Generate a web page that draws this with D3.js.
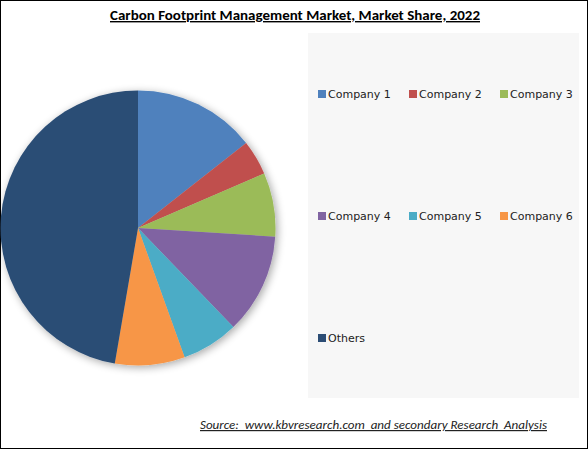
<html>
<head>
<script src="https://cdn.jsdelivr.net/npm/d3@7"></script>
<style>
  body { margin: 0; background: #fff; }
  svg text { font-family: "DejaVu Sans", sans-serif; }
</style>
</head>
<body>
<script>
// chart data
var categories = ["Company 1", "Company 2", "Company 3", "Company 4", "Company 5", "Company 6", "Others"];
var shares = [14.4, 4.1, 7.5, 11.8, 6.7, 8.2, 47.3];
var colors = ["#4F81BD", "#C0504D", "#9BBB59", "#8064A2", "#4BACC6", "#F79646", "#2C4D75"];

var w = 588, h = 449;
var svg = d3.select("body").append("svg").attr("width", w).attr("height", h);

// frame
svg.append("rect").attr("x", 0.5).attr("y", 0.5).attr("width", w - 1).attr("height", h - 1)
   .attr("fill", "#fff").attr("stroke", "#000");

// legend panel
svg.append("rect").attr("x", 308).attr("y", 33).attr("width", 271).attr("height", 365)
   .attr("fill", "#f7f7f7");

// title
svg.append("text").attr("x", 295).attr("y", 20).attr("text-anchor", "middle")
   .attr("textLength", 370).attr("lengthAdjust", "spacingAndGlyphs")
   .style("font-family", "Carlito, 'Open Sans', sans-serif").style("font-weight", "bold")
   .style("font-size", "14px").style("text-decoration", "underline")
   .text("Carbon Footprint Management Market, Market Share, 2022");

// shadow
var defs = svg.append("defs");
var f = defs.append("filter").attr("id", "sh").attr("x", "-20%").attr("y", "-20%").attr("width", "140%").attr("height", "140%");
f.append("feGaussianBlur").attr("in", "SourceAlpha").attr("stdDeviation", 4).attr("result", "b");
f.append("feOffset").attr("in", "b").attr("dx", 2).attr("dy", 2).attr("result", "o");
f.append("feComponentTransfer").attr("in", "o").attr("result", "o2")
  .append("feFuncA").attr("type", "linear").attr("slope", 0.35);
var m = f.append("feMerge");
m.append("feMergeNode").attr("in", "o2");
m.append("feMergeNode").attr("in", "SourceGraphic");

// pie
var cx = 138, cy = 228, r = 137.5;
var pie = d3.pie().sort(null).value(function(d) { return d; });
var arc = d3.arc().innerRadius(0).outerRadius(r);
var color = d3.scaleOrdinal().domain(categories).range(colors);

var g = svg.append("g").attr("transform", "translate(" + cx + "," + cy + ")")
   .attr("filter", "url(#sh)");
g.selectAll("path")
  .data(pie(shares))
  .enter()
  .append("path")
  .attr("d", arc)
  .attr("fill", function(d, i) { return color(categories[i]); });

// legend
var colX = [318, 409, 500], rowY = [94, 216, 338];
var leg = svg.selectAll("g.leg")
  .data(categories)
  .enter()
  .append("g")
  .attr("class", "leg")
  .attr("transform", function(d, i) {
      return "translate(" + colX[i % 3] + "," + rowY[Math.floor(i / 3)] + ")";
  });
leg.append("rect").attr("x", 0).attr("y", -4).attr("width", 8).attr("height", 8)
   .attr("fill", function(d) { return color(d); });
leg.append("text").attr("x", 10).attr("y", 0).attr("dy", "0.35em")
   .style("font-size", "11px").style("fill", "#222")
   .text(function(d) { return d; });

// source
svg.append("text").attr("x", 200).attr("y", 429)
   .attr("textLength", 347).attr("lengthAdjust", "spacingAndGlyphs")
   .attr("xml:space", "preserve").style("white-space", "pre")
   .style("font-family", "Carlito, 'Open Sans', sans-serif").style("font-style", "italic")
   .style("font-size", "12px").style("text-decoration", "underline").style("fill", "#222")
   .text("Source:  www.kbvresearch.com  and secondary Research  Analysis");
</script>
</body>
</html>
